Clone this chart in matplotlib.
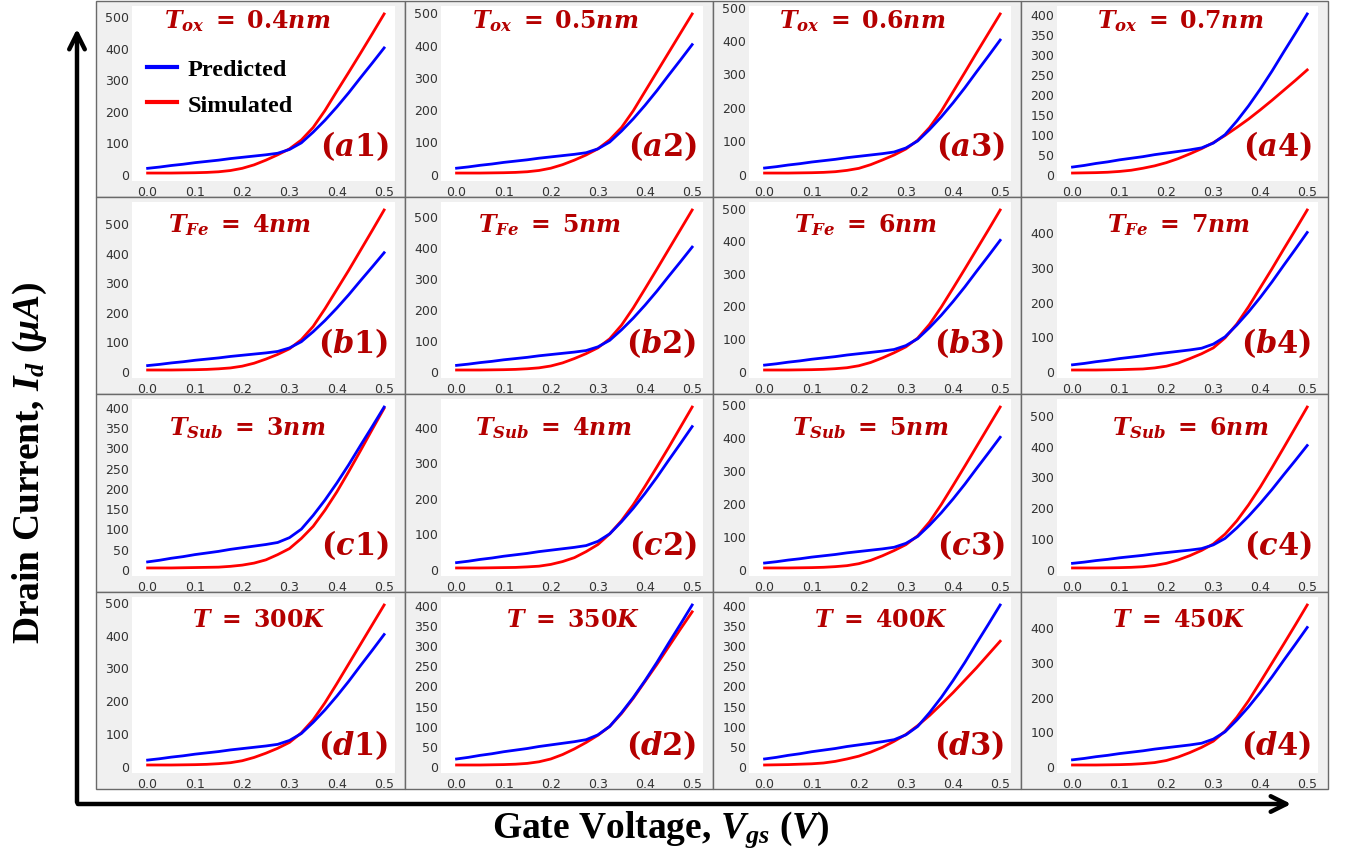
import numpy as np
import matplotlib
matplotlib.use('Agg')
import matplotlib.pyplot as plt
from matplotlib.patches import Rectangle, FancyArrowPatch

plt.rcParams['mathtext.fontset'] = 'custom'
plt.rcParams['mathtext.it'] = 'DejaVu Serif:italic:bold'
plt.rcParams['mathtext.rm'] = 'DejaVu Serif:bold'
plt.rcParams['mathtext.bf'] = 'DejaVu Serif:bold'
plt.rcParams['mathtext.sf'] = 'Liberation Serif:italic:bold'

# ---------------- data ----------------
vgs = [0.0, 0.025, 0.05, 0.075, 0.1, 0.125, 0.15, 0.175, 0.2, 0.225, 0.25,
       0.275, 0.3, 0.325, 0.35, 0.375, 0.4, 0.425, 0.45, 0.475, 0.5]

predicted = [17, 21, 26, 30, 35, 39, 43, 48, 52, 56, 60,
             65, 77, 98, 132, 170, 212, 257, 305, 352, 400]

sim_a1 = [2, 2, 2, 2.5, 3, 4, 6, 10, 17, 28, 43, 60, 79, 107, 147, 201, 262, 322, 383, 445, 508]
sim_a2 = [2, 2, 2, 2.5, 3, 4, 6, 10, 17, 28, 42, 58, 77, 105, 143, 195, 255, 315, 375, 435, 495]
sim_a3 = [2, 2, 2, 2.5, 3, 4, 6, 10, 16, 27, 41, 56, 74, 100, 138, 187, 245, 303, 362, 420, 478]
sim_a4 = [2, 2.5, 3, 4, 6, 9, 14, 20, 28, 38, 50, 63, 78, 96, 116, 137, 160, 184, 209, 234, 260]
sim_b1 = [2, 2, 2, 2.5, 3, 4, 6, 9, 15, 25, 39, 55, 74, 105, 150, 210, 275, 340, 408, 476, 545]
sim_b2 = [2, 2, 2, 2.5, 3, 4, 6, 9, 15, 25, 39, 55, 74, 103, 147, 203, 265, 328, 392, 456, 520]
sim_b3 = [2, 2, 2, 2.5, 3, 4, 6, 9, 15, 25, 39, 55, 73, 100, 142, 195, 253, 312, 372, 432, 493]
sim_b4 = [2, 2, 2, 2.5, 3, 4, 5, 8, 13, 22, 35, 49, 66, 95, 135, 185, 240, 295, 352, 408, 465]
sim_c1 = [2, 2, 2, 2.5, 3, 3.5, 4, 6, 9, 14, 22, 35, 50, 75, 105, 145, 190, 240, 292, 345, 397]
sim_c2 = [2, 2, 2, 2.5, 3, 3.5, 5, 7, 12, 20, 31, 48, 68, 98, 135, 180, 232, 286, 341, 398, 455]
sim_c3 = [2, 2, 2, 2.5, 3, 4, 6, 9, 15, 25, 39, 55, 73, 100, 142, 195, 253, 312, 372, 432, 492]
sim_c4 = [2, 2, 2, 2.5, 3, 4, 6, 10, 17, 28, 42, 59, 80, 112, 155, 207, 265, 328, 393, 459, 525]
sim_d1 = [2, 2, 2, 2.5, 3, 4, 6, 9, 15, 25, 38, 53, 71, 100, 140, 192, 250, 310, 370, 430, 490]
sim_d2 = [2, 2, 2, 2.5, 3, 4, 6, 10, 17, 28, 42, 58, 76, 98, 130, 168, 210, 252, 296, 340, 383]
sim_d3 = [2, 2.5, 3, 4, 5, 7, 11, 17, 24, 34, 46, 61, 78, 100, 125, 153, 182, 213, 244, 277, 310]
sim_d4 = [2, 2, 2, 2.5, 3, 4, 6, 9, 15, 25, 38, 53, 71, 100, 140, 188, 242, 297, 352, 408, 465]

titles = [r'$T_{ox}\;=\;0.4nm$', r'$T_{ox}\;=\;0.5nm$', r'$T_{ox}\;=\;0.6nm$', r'$T_{ox}\;=\;0.7nm$',
          r'$T_{Fe}\;=\;4nm$', r'$T_{Fe}\;=\;5nm$', r'$T_{Fe}\;=\;6nm$', r'$T_{Fe}\;=\;7nm$',
          r'$T_{Sub}\;=\;3nm$', r'$T_{Sub}\;=\;4nm$', r'$T_{Sub}\;=\;5nm$', r'$T_{Sub}\;=\;6nm$',
          r'$T\;=\;300K$', r'$T\;=\;350K$', r'$T\;=\;400K$', r'$T\;=\;450K$']
tags = ['a1', 'a2', 'a3', 'a4', 'b1', 'b2', 'b3', 'b4',
        'c1', 'c2', 'c3', 'c4', 'd1', 'd2', 'd3', 'd4']
simulated = [sim_a1, sim_a2, sim_a3, sim_a4, sim_b1, sim_b2, sim_b3, sim_b4,
             sim_c1, sim_c2, sim_c3, sim_c4, sim_d1, sim_d2, sim_d3, sim_d4]
ytick_max = [500, 500, 500, 400, 500, 500, 500, 400, 400, 400, 500, 500, 500, 400, 400, 400]
ytick_step = [100, 100, 100, 50, 100, 100, 100, 100, 50, 100, 100, 100, 100, 50, 50, 100]
xticks = [0.0, 0.1, 0.2, 0.3, 0.4, 0.5]
xtick_labels = ['0.0', '0.1', '0.2', '0.3', '0.4', '0.5']

# title / tag placement (axes fractions)
title_x = [0.437, 0.435, 0.431, 0.471,
           0.411, 0.416, 0.444, 0.467,
           0.437, 0.429, 0.462, 0.510,
           0.483, 0.504, 0.504, 0.467]
title_y_row = [0.92, 0.875, 0.84, 0.875]
tag_y_row = [0.205, 0.205, 0.18, 0.165]

# ---------------- layout ----------------
W, H = 1348, 854
fig = plt.figure(figsize=(W / 100, H / 100), dpi=100)

col_edges = [96, 405, 713, 1021, 1328]
row_edges = [2, 198, 395, 593, 790]

def fx(px):
    return px / W

def fy(py):
    return 1 - py / H

red_dark = '#b40000'

for i in range(16):
    r, c = divmod(i, 4)
    x0, x1 = col_edges[c], col_edges[c + 1]
    y0, y1 = row_edges[r], row_edges[r + 1]
    fig.add_artist(Rectangle((fx(x0), fy(y1)), fx(x1 - x0), (y1 - y0) / H,
                             transform=fig.transFigure, facecolor='#f0f0f0',
                             edgecolor='#6a6a6a', lw=1.0, zorder=0))
    ax = fig.add_axes([fx(x0 + 36), fy(y1 - 16), fx((x1 - 10) - (x0 + 36)),
                       ((y1 - 16) - (y0 + 5)) / H])
    ax.set_facecolor('white')
    for s in ax.spines.values():
        s.set_visible(False)
    ax.plot(vgs, simulated[i], color='#ff0000', lw=2.0, label='Simulated', zorder=3)
    ax.plot(vgs, predicted, color='#0000ff', lw=2.0, label='Predicted', zorder=4)
    ax.set_xlim(-0.033, 0.523)
    ax.margins(y=0.05)
    ax.set_xticks(xticks)
    ax.set_xticklabels(xtick_labels)
    ax.set_yticks(np.arange(0, ytick_max[i] + 1, ytick_step[i]))
    ax.tick_params(length=0, labelsize=9, labelcolor='#333333', pad=3)
    ax.tick_params(axis='y', pad=2)
    ax.text(title_x[i], title_y_row[r], titles[i], transform=ax.transAxes,
            ha='center', va='center', fontsize=17, color=red_dark)
    ax.text(0.975, tag_y_row[r], r'$(%s)$' % tags[i], transform=ax.transAxes, ha='right',
            va='center', fontsize=22, color=red_dark)
    if i == 0:
        h = ax.get_legend_handles_labels()[0]
        ax.legend([h[1], h[0]], ['Predicted', 'Simulated'], loc='upper left',
                  bbox_to_anchor=(0.0, 0.785), frameon=False, handlelength=1.25,
                  handletextpad=0.45, labelspacing=0.55, borderaxespad=0.2,
                  prop={'family': 'Liberation Serif', 'weight': 'bold', 'size': 17.5})
        for ln in ax.get_legend().get_lines():
            ln.set_linewidth(3)

# ---------------- big axis arrows & labels ----------------
fig.add_artist(FancyArrowPatch((fx(77), fy(806)), (fx(77), fy(27)),
                               transform=fig.transFigure, arrowstyle='->',
                               mutation_scale=28, lw=3.2, color='black'))
fig.add_artist(FancyArrowPatch((fx(75), fy(805)), (fx(1294), fy(805)),
                               transform=fig.transFigure, arrowstyle='->',
                               mutation_scale=28, lw=3.2, color='black'))

fig.text(fx(30), fy(463), r'Drain Current, $\mathsf{I_d}$ ($\mathsf{\mu A}$)', rotation=90,
         ha='center', va='center', fontsize=27, fontfamily='Liberation Serif',
         fontweight='bold', color='black')
fig.text(fx(661), fy(830), r'Gate Voltage, $\mathsf{V_{gs}}$ ($\mathsf{V}$)', ha='center',
         va='center', fontsize=27, fontfamily='Liberation Serif', fontweight='bold',
         color='black')

fig.savefig('out.png', dpi=100, facecolor='white')
